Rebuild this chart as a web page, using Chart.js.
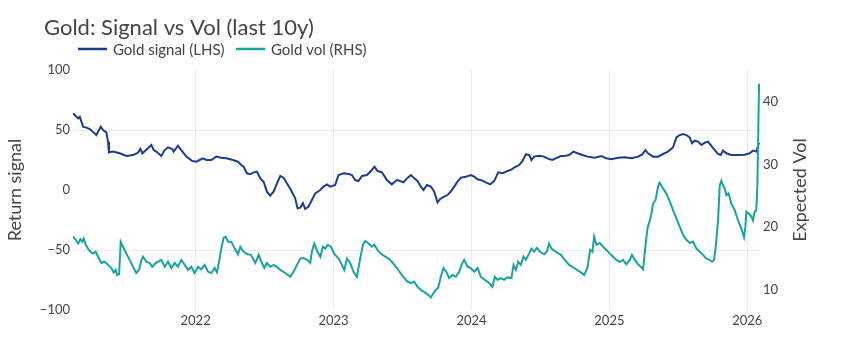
<!DOCTYPE html>
<html>
<head>
<meta charset="utf-8">
<title>Gold: Signal vs Vol</title>
<script src="https://cdn.jsdelivr.net/npm/chart.js@4.4.1/dist/chart.umd.min.js"></script>
<style>
  html, body { margin: 0; padding: 0; background: #fff; }
</style>
</head>
<body>
<canvas id="goldChart" width="864" height="360"></canvas>
<script>
// dates as decimal years
const sigT = [
  2021.111, 2021.123, 2021.148, 2021.160, 2021.184, 2021.208, 2021.232, 2021.268, 2021.280, 2021.293,
  2021.312, 2021.329, 2021.353, 2021.365, 2021.372, 2021.401, 2021.449, 2021.498, 2021.546, 2021.582,
  2021.599, 2021.614, 2021.655, 2021.679, 2021.696, 2021.715, 2021.751, 2021.776, 2021.800, 2021.831,
  2021.841, 2021.872, 2021.896, 2021.933, 2021.976, 2022.005, 2022.029, 2022.053, 2022.078, 2022.114,
  2022.150, 2022.186, 2022.222, 2022.271, 2022.307, 2022.331,
  2022.348, 2022.372, 2022.396, 2022.421, 2022.445, 2022.469, 2022.493, 2022.517, 2022.541, 2022.565,
  2022.590, 2022.614, 2022.638, 2022.662, 2022.698, 2022.722, 2022.739, 2022.759, 2022.778, 2022.795,
  2022.819, 2022.843, 2022.867, 2022.904, 2022.928, 2022.952, 2022.976, 2023.012, 2023.036, 2023.073,
  2023.109, 2023.133, 2023.157, 2023.181, 2023.206, 2023.242, 2023.278, 2023.297, 2023.319, 2023.351,
  2023.387, 2023.423, 2023.459, 2023.483, 2023.507, 2023.532, 2023.561, 2023.585,
  2023.609, 2023.633, 2023.652, 2023.677, 2023.706, 2023.730, 2023.754, 2023.773, 2023.802, 2023.826,
  2023.850, 2023.875, 2023.899, 2023.923, 2023.959, 2023.995, 2024.020, 2024.044, 2024.080, 2024.104,
  2024.136, 2024.165, 2024.194, 2024.225, 2024.261, 2024.285, 2024.309, 2024.346, 2024.370, 2024.394,
  2024.418, 2024.435, 2024.454, 2024.491, 2024.527, 2024.563, 2024.587, 2024.611, 2024.648, 2024.684,
  2024.708, 2024.739, 2024.768, 2024.805, 2024.841,
  2024.894, 2024.942, 2024.978, 2025.015, 2025.063, 2025.111, 2025.160, 2025.208, 2025.239, 2025.261,
  2025.280, 2025.317, 2025.353, 2025.389, 2025.425, 2025.462, 2025.486, 2025.510, 2025.534, 2025.558,
  2025.582, 2025.599, 2025.619, 2025.643, 2025.667, 2025.691, 2025.715, 2025.739, 2025.764, 2025.788,
  2025.807, 2025.824, 2025.848, 2025.884, 2025.933, 2025.981, 2026.017, 2026.041, 2026.065, 2026.085
];
const sigV = [
  63.9, 62.5, 59.7, 61, 52.8, 52, 50.8, 47.2, 45.8, 48.6,
  52.8, 50, 48, 40.3, 31.4, 32, 30.6, 28.3, 29.2, 31,
  34.2, 30.6, 34.7, 37.5, 33.3, 32, 28.3, 33.3, 35.6, 34.2,
  32, 36.9, 33.3, 27.8, 24.2, 23.6, 25, 26.4, 25, 25,
  27.8, 26.9, 26.4, 25, 23.6, 20.8,
  19.4, 13.9, 13.1, 14.7, 15.3, 9.7, 6.9, -1.4, -4.7, -1.4,
  5.6, 11.7, 10.3, 5.6, -1.4, -6.9, -15.3, -14.7, -11.1, -15.8,
  -13.9, -8.3, -2.8, 0, 2.8, 4.7, 2.8, 4.2, 12.5, 13.9,
  13.3, 12.5, 8.3, 7.5, 11.7, 12.5, 16.7, 19.4, 15.8, 14.7,
  8.3, 4.7, 8.3, 7.5, 6.4, 9.7, 12.5, 9.7,
  7.5, 2.8, 0, 4.2, 2.8, -1.4, -10.3, -7.5, -5.6, -4.2,
  -1.4, 2.8, 6.9, 10.3, 11.1, 12.5, 11.1, 8.9, 7.8, 6.4,
  4.7, 7.5, 14.7, 13.9, 15.8, 16.7, 18.6, 20.8, 24.2, 29.7,
  29.2, 25, 27.8, 28.6, 27.8, 25.8, 25, 26.4, 28.3, 28.6,
  29.2, 32, 30.6, 29.2, 27.8,
  26.9, 28.3, 26.4, 25.6, 26.9, 27.2, 26.4, 27.8, 29.7, 33.3,
  30.6, 27.8, 27.8, 30, 32, 35.6, 43.9, 45.8, 46.7, 45.8,
  43.9, 38.9, 41.1, 40.3, 37.5, 39.4, 40.3, 36.7, 33.3, 30,
  29.2, 32.8, 30.6, 29.2, 29.2, 29.4, 30.6, 32.8, 32, 39.4
];

const volT = [
  2021.111, 2021.131, 2021.148, 2021.164, 2021.179, 2021.189, 2021.203, 2021.220, 2021.237, 2021.256,
  2021.276, 2021.293, 2021.317, 2021.341, 2021.365, 2021.389, 2021.406, 2021.421, 2021.430, 2021.445,
  2021.457, 2021.474, 2021.498, 2021.522, 2021.546, 2021.570, 2021.590, 2021.607, 2021.619, 2021.643,
  2021.667, 2021.686, 2021.710, 2021.727, 2021.751, 2021.776, 2021.800, 2021.824, 2021.848, 2021.872,
  2021.896, 2021.921, 2021.945, 2021.969, 2021.993, 2022.017, 2022.041, 2022.065, 2022.090, 2022.114,
  2022.138, 2022.155, 2022.174, 2022.186, 2022.203, 2022.218, 2022.235, 2022.259, 2022.283, 2022.307,
  2022.324, 2022.348, 2022.377, 2022.401, 2022.433, 2022.457, 2022.481, 2022.498, 2022.517, 2022.541,
  2022.565, 2022.590, 2022.614, 2022.650, 2022.686, 2022.710, 2022.735, 2022.759, 2022.783, 2022.807,
  2022.831, 2022.843, 2022.860, 2022.884, 2022.904, 2022.923, 2022.940, 2022.957, 2022.981, 2023.005,
  2023.036, 2023.061, 2023.078, 2023.097, 2023.121, 2023.145, 2023.169, 2023.193, 2023.213, 2023.230,
  2023.254, 2023.278, 2023.295, 2023.319, 2023.343, 2023.375, 2023.399, 2023.430, 2023.459, 2023.495,
  2023.532, 2023.561, 2023.585,
  2023.609, 2023.633, 2023.657, 2023.681, 2023.706, 2023.725, 2023.742, 2023.759, 2023.778, 2023.797,
  2023.822, 2023.838, 2023.863, 2023.887, 2023.911, 2023.928, 2023.947, 2023.971, 2023.995, 2024.020,
  2024.044, 2024.068, 2024.097, 2024.128, 2024.152, 2024.169, 2024.189, 2024.213, 2024.237, 2024.261,
  2024.290, 2024.305, 2024.322, 2024.338, 2024.358, 2024.377, 2024.394, 2024.418, 2024.435, 2024.454,
  2024.474, 2024.498, 2024.527, 2024.546, 2024.563, 2024.580, 2024.611, 2024.648, 2024.677, 2024.708,
  2024.744, 2024.780, 2024.817, 2024.841, 2024.860, 2024.877,
  2024.889, 2024.906, 2024.930, 2024.954, 2024.978, 2025.003, 2025.027, 2025.051, 2025.075, 2025.099,
  2025.123, 2025.148, 2025.164, 2025.184, 2025.208, 2025.232, 2025.244, 2025.261, 2025.276, 2025.293,
  2025.305, 2025.317, 2025.334, 2025.353, 2025.365, 2025.389, 2025.413, 2025.438, 2025.462, 2025.486,
  2025.510, 2025.534, 2025.558, 2025.582, 2025.607, 2025.631, 2025.655, 2025.679, 2025.703, 2025.727,
  2025.744, 2025.759, 2025.771, 2025.788, 2025.800, 2025.812, 2025.824, 2025.836, 2025.848, 2025.865,
  2025.884, 2025.909, 2025.933, 2025.957, 2025.976, 2025.986, 2025.993, 2026.010, 2026.029, 2026.041,
  2026.053, 2026.065, 2026.073, 2026.080, 2026.085, 2026.092
];
const volV = [
  18.5, 18.0, 17.4, 18.1, 17.7, 18.2, 17.2, 16.6, 16.1, 15.8,
  16.1, 15.3, 14.3, 14.5, 14.0, 13.5, 12.8, 13.2, 12.4, 12.5,
  17.7, 16.9, 15.8, 14.8, 13.7, 12.7, 13.2, 14.8, 15.3, 14.5,
  14.3, 13.7, 14.3, 14.5, 14.8, 13.7, 14.5, 13.5, 14.3, 13.7,
  14.8, 14.0, 13.2, 13.7, 12.7, 13.7, 13.3, 14.0, 12.9, 12.7,
  13.5, 12.8, 15.0, 16.6, 18.3, 18.5, 17.7, 17.7, 16.6, 15.7,
  16.9, 16.1, 15.7, 15.6, 14.3, 15.6, 14.3, 13.5, 14.3, 13.7,
  14.0, 13.7, 13.2, 12.7, 12.1, 12.9, 14.0, 15.0, 15.1, 14.8,
  14.3, 16.1, 17.4, 16.1, 15.3, 16.9, 16.6, 17.2, 16.9, 15.8,
  15.0, 14.0, 13.2, 15.0, 14.3, 12.9, 12.1, 15.0, 17.2, 17.8,
  17.4, 16.9, 17.2, 16.4, 15.8, 15.3, 15.0, 14.3, 13.5, 12.4,
  11.4, 11.1, 11.3,
  10.5, 10.0, 9.7, 9.3, 8.8, 9.5, 10.0, 10.4, 12.1, 13.5,
  12.7, 11.9, 12.4, 12.1, 12.9, 14.0, 14.8, 13.7, 13.5, 12.9,
  13.5, 12.1, 11.6, 11.1, 10.5, 12.1, 11.6, 11.9, 11.6, 12.0,
  11.9, 14.0, 13.2, 14.5, 14.0, 15.3, 14.8, 15.8, 16.6, 16.1,
  16.7, 16.1, 15.7, 16.1, 17.4, 16.6, 16.1, 15.6, 14.8, 14.0,
  13.5, 13.0, 12.4, 13.5, 16.4, 16.1,
  18.5, 17.2, 17.5, 16.9, 16.4, 15.8, 15.3, 14.8, 14.5, 14.8,
  14.1, 14.8, 15.6, 14.8, 14.1, 13.6, 13.3, 16.9, 19.8, 21.1,
  22.2, 23.8, 24.3, 26.5, 27.1, 26.2, 25.4, 24.1, 22.7, 21.4,
  20.1, 18.8, 18.0, 17.5, 17.7, 16.6, 16.1, 15.6, 15.0, 14.8,
  14.5, 14.8, 16.9, 21.1, 26.7, 27.4, 26.7, 26.2, 25.1, 25.4,
  23.8, 22.7, 21.1, 19.8, 18.4, 20.1, 22.5, 22.2, 21.7, 21.1,
  22.5, 22.7, 26.5, 36.0, 42.9, 41.6
];

const yearTicks = [2022, 2023, 2024, 2025, 2026];
const leftTicks = [-100, -50, 0, 50, 100];
const rightTicks = [10, 20, 30, 40];

const NAVY = '#1c3d8e';
const TEAL = '#18a39f';
const TEXT = '#444';
const GRID = '#ebebeb';
const FONT = 'Lato';

// title, legend and the right-hand axis title (reads bottom to top)
const headerPlugin = {
  id: 'header',
  afterDraw(chart) {
    const ctx = chart.ctx;
    ctx.save();
    ctx.fillStyle = TEXT;
    ctx.textBaseline = 'alphabetic';
    ctx.font = `22px ${FONT}`;
    ctx.fillText('Gold: Signal vs Vol (last 10y)', 44, 35);

    const items = [
      { label: 'Gold signal (LHS)', color: NAVY, x: 78 },
      { label: 'Gold vol (RHS)', color: TEAL, x: 236 }
    ];
    ctx.font = `15px ${FONT}`;
    items.forEach(it => {
      ctx.strokeStyle = it.color;
      ctx.lineWidth = 2.5;
      ctx.beginPath();
      ctx.moveTo(it.x, 49);
      ctx.lineTo(it.x + 29, 49);
      ctx.stroke();
      ctx.fillText(it.label, it.x + 35, 54.5);
    });

    const area = chart.chartArea;
    ctx.translate(800, (area.top + area.bottom) / 2);
    ctx.rotate(-Math.PI / 2);
    ctx.textAlign = 'center';
    ctx.textBaseline = 'middle';
    ctx.font = `18px ${FONT}`;
    ctx.fillText('Expected Vol', 0, 0);
    ctx.restore();
  }
};

const tickFont = { family: FONT, size: 13 };

new Chart(document.getElementById('goldChart'), {
  type: 'line',
  data: {
    datasets: [
      {
        label: 'Gold signal (LHS)',
        data: sigT.map((t, i) => ({ x: t, y: sigV[i] })),
        borderColor: NAVY,
        borderWidth: 2,
        pointRadius: 0,
        yAxisID: 'y',
        order: 1
      },
      {
        label: 'Gold vol (RHS)',
        data: volT.map((t, i) => ({ x: t, y: volV[i] })),
        borderColor: TEAL,
        borderWidth: 2,
        pointRadius: 0,
        yAxisID: 'y2',
        order: 0
      }
    ]
  },
  options: {
    responsive: false,
    animation: false,
    devicePixelRatio: 1,
    layout: { padding: { top: 70, right: 0, bottom: 0, left: 0 } },
    plugins: {
      legend: { display: false },
      title: { display: false },
      tooltip: { enabled: false }
    },
    scales: {
      x: {
        type: 'linear',
        min: 2021.111,
        max: 2026.092,
        afterBuildTicks: s => { s.ticks = yearTicks.map(v => ({ value: v })); },
        afterFit: s => { s.height = 50; },
        ticks: {
          callback: v => String(v),
          font: tickFont,
          color: TEXT,
          maxRotation: 0,
          autoSkip: false,
          padding: 3
        },
        grid: { color: GRID, drawTicks: false },
        border: { display: false }
      },
      y: {
        position: 'left',
        min: -100,
        max: 100,
        afterBuildTicks: s => { s.ticks = leftTicks.map(v => ({ value: v })); },
        afterFit: s => { s.width = 73; },
        ticks: {
          font: tickFont,
          color: TEXT,
          padding: 3,
          callback: v => String(v).replace('-', '\u2212')
        },
        grid: {
          drawTicks: false,
          color: c => (c.tick && Math.abs(c.tick.value) === 50 ? GRID : 'rgba(0,0,0,0)')
        },
        border: { display: false },
        title: {
          display: true,
          text: 'Return signal',
          color: TEXT,
          font: { family: FONT, size: 18 },
          padding: { top: 4, bottom: 4 }
        }
      },
      y2: {
        position: 'right',
        min: 6.8,
        max: 45.1,
        afterBuildTicks: s => { s.ticks = rightTicks.map(v => ({ value: v })); },
        afterFit: s => { s.width = 104; },
        ticks: { font: tickFont, color: TEXT, padding: 3 },
        grid: { display: false, drawTicks: false },
        border: { display: false }
      }
    }
  },
  plugins: [headerPlugin]
});
</script>
</body>
</html>
